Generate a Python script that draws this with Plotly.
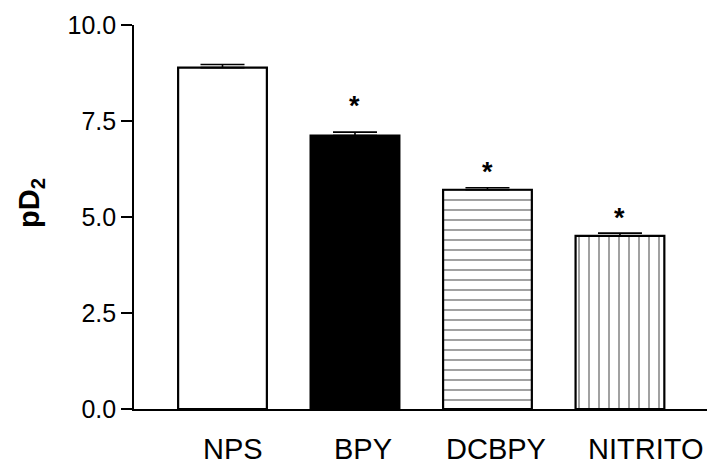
import plotly.graph_objects as go

categories = ["NPS", "BPY", "DCBPY", "NITRITO"]
means = [8.89, 7.12, 5.71, 4.51]
sems = [0.08, 0.09, 0.05, 0.07]
significant = [False, True, True, True]
star_y = [None, 7.88, 6.18, 4.98]
y_ticks = [0.0, 2.5, 5.0, 7.5, 10.0]
y_ticklabels = ["0.0", "2.5", "5.0", "7.5", "10.0"]
label_xshift = [10, 8, 9, 26]

fills = ["white", "black", "white", "white"]
shapes = ["", "", "-", "|"]

FONT = "Liberation Sans, Arial, Helvetica, sans-serif"

fig = go.Figure()
fig.add_trace(go.Bar(
    x=categories,
    y=means,
    width=0.67,
    marker=dict(
        color=fills,
        line=dict(color="black", width=2.2),
        pattern=dict(shape=shapes, size=10, solidity=0.2,
                     fgcolor="black", bgcolor="white", fillmode="overlay"),
    ),
    error_y=dict(type="data", array=sems, arrayminus=[0] * len(sems),
                 symmetric=False, color="black", thickness=1.6, width=22),
    showlegend=False,
))

plot_w = 707 - 134
plot_h = 466 - 25 - 57

annotations = []
for c, s, sy in zip(categories, significant, star_y):
    if s:
        annotations.append(dict(x=c, y=sy, xref="x", yref="y", text="<b>*</b>",
                                showarrow=False, yanchor="middle",
                                font=dict(family=FONT, size=27, color="black")))
for c, xs in zip(categories, label_xshift):
    annotations.append(dict(x=c, y=0, xref="x", yref="paper", text=c,
                            showarrow=False, yanchor="bottom", xanchor="center",
                            xshift=xs, yshift=-57, borderpad=0,
                            font=dict(family=FONT, size=29, color="black")))
annotations.append(dict(x=(31 - 134) / plot_w, y=(466 - 57 - 203) / plot_h,
                        xref="paper", yref="paper", text="<b>pD<sub>2</sub></b>",
                        showarrow=False, textangle=-90, xanchor="center", yanchor="middle",
                        font=dict(family=FONT, size=29, color="black")))

fig.update_layout(
    width=707, height=466,
    margin=dict(l=134, r=0, t=25, b=57),
    paper_bgcolor="white", plot_bgcolor="white",
    font=dict(family=FONT, color="black"),
    xaxis=dict(range=[-0.668, 3.657], showline=True, linecolor="black", linewidth=1.6,
               showticklabels=False, ticks="", showgrid=False, zeroline=False, fixedrange=True),
    yaxis=dict(range=[0, 10], showline=True, linecolor="black", linewidth=1.6,
               tickvals=y_ticks, ticktext=y_ticklabels, ticks="outside", ticklen=11,
               tickwidth=1.6, tickcolor="black", showgrid=False, zeroline=False,
               tickfont=dict(family=FONT, size=25, color="black"), fixedrange=True),
    annotations=annotations,
)

fig.write_html("out.html")
